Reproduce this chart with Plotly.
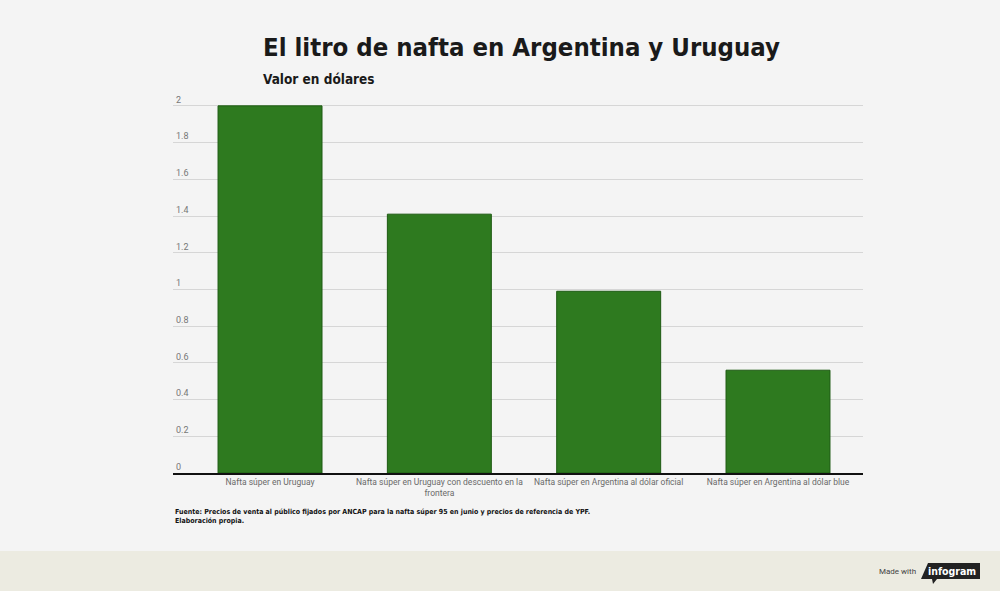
import plotly.graph_objects as go

categorias = [
    "Nafta súper en Uruguay",
    "Nafta súper en Uruguay con descuento en la<br>frontera",
    "Nafta súper en Argentina al dólar oficial",
    "Nafta súper en Argentina al dólar blue",
]
valores = [2.0, 1.41, 0.99, 0.56]
ticks_y = [0, 0.2, 0.4, 0.6, 0.8, 1, 1.2, 1.4, 1.6, 1.8, 2]
ticks_y_txt = ["0", "0.2", "0.4", "0.6", "0.8", "1", "1.2", "1.4", "1.6", "1.8", "2"]

titulo = "El litro de nafta en Argentina y Uruguay"
subtitulo = "Valor en dólares"
fuente = ("Fuente: Precios de venta al público fijados por ANCAP para la nafta súper 95 "
          "en junio y precios de referencia de YPF.<br>Elaboración propia.")

cond = "DejaVu Sans Condensed, DejaVu Sans, sans-serif"


def estrecho(txt):
    return f'<span style="font-stretch:condensed"><b>{txt}</b></span>'


# escala vertical: 0 en y=473px, 2 en y=105.5px
y_max = 2.07
alto = 367.5 * y_max / 2
top = 473 - alto


def py(p):
    return (473 - p) / alto


def px(p):
    return (p - 173) / 690


fig = go.Figure(go.Bar(
    x=categorias,
    y=valores,
    width=0.614,
    marker=dict(color="#2e7a1f", line=dict(color="#1d5a12", width=1)),
    hoverinfo="x+y",
))

fig.update_layout(
    width=1000, height=591,
    paper_bgcolor="#f4f4f4",
    plot_bgcolor="#f4f4f4",
    margin=dict(l=173, r=137, t=top, b=118, pad=0),
    showlegend=False,
    xaxis=dict(
        range=[-0.573, 3.502],
        showgrid=False,
        showline=True, linecolor="#111111", linewidth=1.5,
        ticks="", tickangle=0,
        tickfont=dict(family="Roboto", size=8.5, color="#6a6a6a"),
        fixedrange=True,
    ),
    yaxis=dict(
        range=[0, y_max],
        tickvals=ticks_y, ticktext=ticks_y_txt,
        ticklabelposition="inside top",
        showgrid=True, gridcolor="#d6d6d6", gridwidth=1,
        zeroline=False, showline=False, ticks="",
        tickfont=dict(family="Roboto", size=9, color="#777777"),
        fixedrange=True,
    ),
    font=dict(family="Roboto"),
)

# titulo y subtitulo
fig.add_annotation(text=estrecho(titulo), xref="paper", yref="paper",
                   x=px(261), y=py(47), xanchor="left", yanchor="middle",
                   showarrow=False, font=dict(family=cond, size=25.5, color="#1a1a1a"))
fig.add_annotation(text=estrecho(subtitulo), xref="paper", yref="paper",
                   x=px(261), y=py(79), xanchor="left", yanchor="middle",
                   showarrow=False, font=dict(family=cond, size=13.5, color="#1a1a1a"))

# fuente
fig.add_annotation(text=estrecho(fuente), xref="paper", yref="paper",
                   x=0, y=py(506), xanchor="left", yanchor="top", align="left",
                   showarrow=False, font=dict(family=cond, size=7, color="#111111"))

# pie de infogram
fig.add_shape(type="rect", xref="paper", yref="paper", layer="below",
              x0=-0.3, x1=1.3, y0=py(551), y1=py(600),
              fillcolor="#ecebe1", line=dict(width=0))
fig.add_shape(type="path", xref="paper", yref="paper",
              path="M {},{} L {},{} L {},{} L {},{} L {},{} L {},{} L {},{} Z".format(
                  px(928), py(563), px(980), py(563), px(980), py(579),
                  px(937), py(579), px(933), py(584), px(932), py(579),
                  px(921), py(579)),
              fillcolor="#222222", line=dict(width=0))
fig.add_annotation(text=estrecho("infogram"), xref="paper", yref="paper",
                   x=px(952), y=py(571), xanchor="center", yanchor="middle",
                   showarrow=False, font=dict(family=cond, size=10.5, color="#ffffff"))
fig.add_annotation(text="Made with", xref="paper", yref="paper",
                   x=px(918), y=py(572), xanchor="right", yanchor="middle",
                   showarrow=False, font=dict(family="Roboto", size=8, color="#444444"))

fig.write_html("out.html", config={"displayModeBar": False},
               post_script="document.body.style.margin='0';")
